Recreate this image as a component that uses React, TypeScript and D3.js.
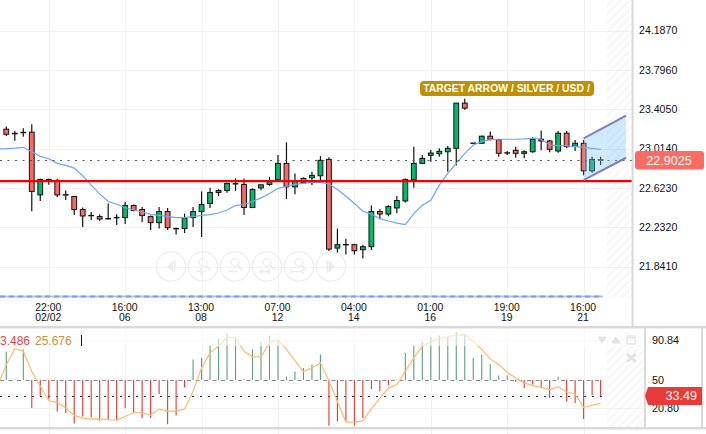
import { useEffect, useRef } from 'react';
import * as d3 from 'd3';

const opens = [23.206,23.165,23.170,23.176,22.553,22.707,22.697,22.555,22.537,22.407,22.349,22.337,22.318,22.329,22.327,22.447,22.407,22.337,22.277,22.387,22.219,22.218,22.327,22.387,22.467,22.577,22.597,22.665,22.657,22.427,22.623,22.657,22.703,22.866,22.633,22.717,22.723,22.743,22.906,22.024,22.060,22.058,22.008,22.038,22.387,22.363,22.423,22.493,22.703,22.866,22.946,22.962,22.982,23.016,23.465,23.069,23.066,23.136,23.102,22.972,22.996,22.966,22.982,23.106,23.089,22.989,23.166,23.036,23.066,22.792,22.902];
const highs = [23.232,23.189,23.216,23.255,22.713,22.713,22.713,22.597,22.543,22.427,22.383,22.357,22.467,22.360,22.483,22.457,22.433,22.347,22.433,22.423,22.228,22.367,22.433,22.587,22.623,22.610,22.677,22.717,22.717,22.617,22.657,22.733,22.949,23.076,22.766,22.727,22.782,22.939,22.926,22.218,22.118,22.068,22.058,22.447,22.410,22.450,22.543,22.717,23.032,22.949,22.999,23.016,23.039,23.465,23.508,23.069,23.142,23.182,23.102,22.989,23.032,22.996,23.126,23.192,23.099,23.189,23.189,23.099,23.099,22.932,22.932];
const lows = [23.139,23.092,23.132,22.390,22.493,22.653,22.533,22.503,22.353,22.234,22.303,22.293,22.307,22.254,22.263,22.390,22.283,22.204,22.218,22.204,22.158,22.174,22.233,22.134,22.423,22.540,22.573,22.593,22.353,22.423,22.600,22.643,22.700,22.510,22.560,22.673,22.650,22.700,21.994,21.971,21.961,21.961,21.921,22.004,22.310,22.340,22.370,22.477,22.623,22.859,22.882,22.932,22.782,22.846,23.398,23.069,23.062,23.096,22.932,22.949,22.922,22.916,22.972,22.996,22.976,22.972,23.016,22.989,22.749,22.772,22.849];
const closes = [23.156,23.160,23.175,22.587,22.707,22.697,22.553,22.551,22.407,22.343,22.345,22.313,22.316,22.327,22.447,22.397,22.347,22.277,22.387,22.227,22.217,22.323,22.387,22.457,22.577,22.597,22.667,22.663,22.427,22.607,22.653,22.683,22.866,22.633,22.693,22.673,22.747,22.896,22.014,22.058,22.058,21.998,22.038,22.387,22.363,22.437,22.497,22.707,22.866,22.916,22.969,22.986,23.016,23.465,23.415,23.069,23.136,23.106,22.966,22.970,22.966,22.982,23.106,23.089,23.006,23.166,23.032,23.066,22.792,22.906,22.900];

// first value sits one bar before the visible candles
const maValues = [23.010,23.012,23.017,23.026,22.982,22.936,22.912,22.866,22.846,22.819,22.743,22.650,22.563,22.487,22.460,22.427,22.403,22.383,22.360,22.350,22.340,22.327,22.327,22.337,22.350,22.357,22.373,22.403,22.447,22.457,22.487,22.523,22.567,22.617,22.640,22.657,22.667,22.677,22.680,22.660,22.607,22.540,22.467,22.390,22.360,22.317,22.293,22.273,22.257,22.367,22.450,22.500,22.650,22.766,22.866,22.966,23.049,23.082,23.102,23.106,23.106,23.106,23.109,23.116,23.106,23.049,23.042,23.039,23.032,23.026,23.016,23.006];

const histValues = [79,50.4,81.4,21,33.5,30.7,17.6,15.9,5.2,12.4,11.4,8,9,8.3,21,15.9,10.7,10.7,35.5,4.5,13.5,42.4,71,72.8,85.8,92.7,98.6,93.4,51,81.4,89.3,95.8,90.7,53.4,58.6,62.4,65.9,76.2,2.8,7.3,6.6,3.1,10.7,40.7,38.3,44.5,50.4,77.9,85.2,89.3,94.5,95.8,94.5,99.3,96.9,72.8,76.2,66.5,54.5,54.5,47.9,41.7,45.2,42.4,31.4,53.4,27.9,26.2,9.7,34.1,33.5];
const signalValues = [44.1,65.9,82.1,79.6,59,43.5,28.6,26.9,21,13.5,10.7,9.7,10,9,8.6,12.4,16.2,16.2,13.8,20,17.9,17.9,20,38.3,62.4,77.9,84.8,94.1,93.4,79.6,73.8,73.8,88.3,91.4,81.4,70,58.6,62.4,67.6,49.3,27.9,6.6,6.6,7.9,20.4,31.4,41.7,45.2,59,72.8,84.8,89.3,92.7,94.5,96.5,96.5,90,81.4,71.7,65.9,57.9,52.1,46.9,44.1,42.4,40,43.1,37.6,35.5,21.7,23.8,26.2];

const priceTicks = ['24.1870','23.7960','23.4050','23.0140','22.6230','22.2320','21.8410'];
const timeTickIndex = [5,14,23,32,41,50,59,68];
const timeTickHours = ['22:00','16:00','13:00','07:00','04:00','01:00','19:00','16:00'];
const timeTickDays = ['02/02','06','08','12','14','16','19','21'];
const indicatorTicks = ['90.84','50','20.80'];

const supportPrice = 22.69;
const lastPrice = 22.9025;
const lastIndicator = 33.49;
const channelIndex = [68, 73];
const channelTop = [23.115, 23.341];
const channelBottom = [22.699, 22.922];

const FONT = '"Liberation Sans", Arial, sans-serif';
const PLOT_RIGHT = 632;
const IND_RIGHT = 644;

export default function App() {
  const svgRef = useRef<SVGSVGElement>(null);

  useEffect(() => {
    if (!svgRef.current) return;
    const svg = d3.select(svgRef.current);
    svg.selectAll('*').remove();

    const x = d3.scaleLinear().domain([0, 70]).range([6.3, 600.6]);
    const y = d3.scaleLinear().domain([21.841, 24.187]).range([266.5, 30.5]);
    const yInd = d3.scaleLinear().domain([20.8, 90.84]).range([408.3, 340.3]);
    const crisp = (v: number) => Math.round(v) + 0.5;

    const defs = svg.append('defs');
    const hatch = defs.append('pattern')
      .attr('id', 'hatch')
      .attr('width', 6)
      .attr('height', 6)
      .attr('patternUnits', 'userSpaceOnUse')
      .attr('patternTransform', 'rotate(45)');
    hatch.append('rect').attr('width', 3).attr('height', 6).attr('fill', '#f8f8f8');
    defs.append('clipPath').attr('id', 'main-clip').append('rect').attr('width', PLOT_RIGHT).attr('height', 296);
    defs.append('clipPath').attr('id', 'ind-clip').append('rect').attr('y', 328).attr('width', IND_RIGHT).attr('height', 100);

    svg.append('rect').attr('width', 706).attr('height', 434).attr('fill', '#fff');

    // Hatched future area
    svg.append('rect').attr('x', 607).attr('y', 0).attr('width', PLOT_RIGHT - 607).attr('height', 298).attr('fill', 'url(#hatch)');
    svg.append('rect').attr('x', 607).attr('y', 328).attr('width', IND_RIGHT - 607).attr('height', 100).attr('fill', 'url(#hatch)');

    // Grid
    const grid = svg.append('g').attr('stroke', '#f1f1f1').attr('stroke-width', 1);
    priceTicks.forEach((t) => {
      const py = crisp(y(+t));
      grid.append('line').attr('x1', 0).attr('x2', PLOT_RIGHT).attr('y1', py).attr('y2', py);
    });
    timeTickIndex.forEach((i) => {
      const px = crisp(x(i));
      grid.append('line').attr('x1', px).attr('x2', px).attr('y1', 0).attr('y2', 296);
      grid.append('line').attr('x1', px).attr('x2', px).attr('y1', 328).attr('y2', 434);
    });
    [90.84, 20.8].forEach((v) => {
      const py = crisp(yInd(v));
      grid.append('line').attr('x1', 0).attr('x2', IND_RIGHT).attr('y1', py).attr('y2', py);
    });

    // Candles
    const main = svg.append('g').attr('clip-path', 'url(#main-clip)');
    opens.forEach((o, i) => {
      const c = closes[i];
      const cx = x(i);
      const top = y(Math.max(o, c));
      const h = Math.max(Math.abs(y(o) - y(c)), 0.4);
      main.append('line')
        .attr('x1', cx).attr('x2', cx)
        .attr('y1', y(highs[i])).attr('y2', y(lows[i]))
        .attr('stroke', '#111').attr('stroke-width', 1.2);
      main.append('rect')
        .attr('x', cx - 2.4).attr('y', top)
        .attr('width', 4.8).attr('height', h)
        .attr('fill', c >= o ? '#00bb6d' : '#fb6a62')
        .attr('stroke', '#111').attr('stroke-width', 1);
    });

    // Moving average
    const maLine = d3.line<number>().x((_, i) => x(i - 1)).y((d) => y(d));
    main.append('path')
      .attr('d', maLine(maValues))
      .attr('fill', 'none')
      .attr('stroke', '#6ba6f7')
      .attr('stroke-width', 1.2);

    // Last price and support lines
    const lastY = crisp(y(lastPrice));
    main.append('line')
      .attr('x1', 0).attr('x2', PLOT_RIGHT).attr('y1', lastY).attr('y2', lastY)
      .attr('stroke', '#555').attr('stroke-width', 1).attr('stroke-dasharray', '2 5.5');
    main.append('line')
      .attr('x1', 0).attr('x2', PLOT_RIGHT).attr('y1', y(supportPrice)).attr('y2', y(supportPrice))
      .attr('stroke', '#f50000').attr('stroke-width', 2.2);

    // Target channel
    const band = channelIndex.map((d, i) => ({ i: d, t: channelTop[i], b: channelBottom[i] }));
    const area = d3.area<{ i: number; t: number; b: number }>()
      .x((d) => x(d.i)).y0((d) => y(d.b)).y1((d) => y(d.t));
    main.append('path').attr('d', area(band)).attr('fill', '#7cc4f8').attr('fill-opacity', 0.35);
    [channelTop, channelBottom].forEach((vals) => {
      main.append('line')
        .attr('x1', x(channelIndex[0])).attr('x2', x(channelIndex[1]))
        .attr('y1', y(vals[0])).attr('y2', y(vals[1]))
        .attr('stroke', '#7d7fc2').attr('stroke-width', 2);
    });

    // Target label
    svg.append('rect')
      .attr('x', 420).attr('y', 81).attr('width', 174).attr('height', 15).attr('rx', 4)
      .attr('fill', '#bf9000');
    svg.append('text')
      .attr('x', 506.5).attr('y', 92.3).attr('text-anchor', 'middle')
      .attr('font-family', FONT).attr('font-size', 10.4).attr('font-weight', 700)
      .attr('fill', '#fff')
      .text('TARGET ARROW / SILVER / USD /');

    // Chart navigation buttons
    const navColor = '#ececec';
    const nav = svg.append('g').attr('fill', 'none').attr('stroke', navColor).attr('stroke-width', 1.2);
    const navX = [171, 203, 235, 267, 299, 331];
    const navCy = 266.5;
    navX.forEach((cx, n) => {
      nav.append('circle').attr('cx', cx).attr('cy', navCy).attr('r', 14.7);
      if (n === 0 || n === 5) {
        const dir = n === 0 ? -1 : 1;
        nav.append('path')
          .attr('d', `M${cx + 4 * dir},${navCy} L${cx - 2 * dir},${navCy - 6} V${navCy + 6} Z`)
          .attr('fill', navColor).attr('stroke', 'none');
        nav.append('line')
          .attr('x1', cx - 3.5 * dir).attr('x2', cx - 3.5 * dir)
          .attr('y1', navCy - 6).attr('y2', navCy + 6).attr('stroke-width', 2);
      } else {
        nav.append('circle').attr('cx', cx).attr('cy', navCy - 4).attr('r', 3.8);
        nav.append('line').attr('x1', cx + 3).attr('y1', navCy - 1).attr('x2', cx + 7).attr('y2', navCy + 3).attr('stroke-width', 2);
        nav.append('line').attr('x1', cx - 7).attr('x2', cx + 3).attr('y1', navCy + 5).attr('y2', navCy + 5).attr('stroke-width', 1.6);
        if (n === 1) {
          nav.append('line').attr('x1', cx - 2).attr('x2', cx - 2).attr('y1', navCy + 1).attr('y2', navCy + 9).attr('stroke-width', 1.6);
        }
        if (n === 3 || n === 4) {
          const w = n === 3 ? 2.5 : -2.5;
          nav.append('path').attr('d', `M${cx - 7 + w},${navCy + 2.5} L${cx - 7},${navCy + 5} L${cx - 7 + w},${navCy + 7.5} M${cx + 3 - w},${navCy + 2.5} L${cx + 3},${navCy + 5} L${cx + 3 - w},${navCy + 7.5}`);
        }
      }
    });

    // Blue bar under the plot
    svg.append('line').attr('x1', 0).attr('x2', 603).attr('y1', 296.5).attr('y2', 296.5)
      .attr('stroke', '#a9c3ee').attr('stroke-width', 2);
    svg.append('line').attr('x1', 0).attr('x2', 603).attr('y1', 296.5).attr('y2', 296.5)
      .attr('stroke', '#7e9fdf').attr('stroke-width', 2).attr('stroke-dasharray', '5 4');

    // Time axis
    timeTickIndex.forEach((i, n) => {
      const t = svg.append('text')
        .attr('text-anchor', 'middle')
        .attr('font-family', FONT).attr('font-size', 10.4).attr('fill', '#111');
      t.append('tspan').attr('x', x(i) - 0.5).attr('y', 311).text(timeTickHours[n]);
      t.append('tspan').attr('x', x(i) - 0.5).attr('y', 321).text(timeTickDays[n]);
    });

    // Price axis
    priceTicks.forEach((t) => {
      svg.append('text')
        .attr('x', 639).attr('y', y(+t) + 3.8)
        .attr('font-family', FONT).attr('font-size', 10.6).attr('fill', '#111')
        .text(t);
    });

    // Indicator pane
    const ind = svg.append('g').attr('clip-path', 'url(#ind-clip)');
    const base = yInd(50);
    ind.append('line').attr('x1', 0).attr('x2', 603).attr('y1', crisp(base)).attr('y2', crisp(base))
      .attr('stroke', '#888').attr('stroke-dasharray', '4 4.5');
    ind.append('line').attr('x1', 0).attr('x2', 603).attr('y1', crisp(yInd(lastIndicator))).attr('y2', crisp(yInd(lastIndicator)))
      .attr('stroke', '#333').attr('stroke-dasharray', '2 6');
    histValues.forEach((v, i) => {
      ind.append('line')
        .attr('x1', x(i)).attr('x2', x(i))
        .attr('y1', base).attr('y2', yInd(v))
        .attr('stroke', v >= 50 ? '#5e9e7e' : '#e83535')
        .attr('stroke-width', 1.1);
    });
    const signalLine = d3.line<number>().x((_, i) => x(i - 1)).y((d) => yInd(d));
    ind.append('path')
      .attr('d', signalLine(signalValues))
      .attr('fill', 'none')
      .attr('stroke', '#fdbb6b')
      .attr('stroke-width', 1.2);
    // top of the pane is washed out
    svg.append('rect').attr('x', 0).attr('y', 328).attr('width', IND_RIGHT).attr('height', 18)
      .attr('fill', '#fff').attr('fill-opacity', 0.6);

    svg.append('text').attr('x', 0).attr('y', 345)
      .attr('font-family', FONT).attr('font-size', 12).attr('fill', '#e8454a')
      .text('3.486');
    svg.append('text').attr('x', 35).attr('y', 345)
      .attr('font-family', FONT).attr('font-size', 12).attr('fill', '#c98f3d')
      .text('25.676');
    svg.append('line').attr('x1', 81.5).attr('x2', 81.5).attr('y1', 335).attr('y2', 346).attr('stroke', '#111');

    // Pane icons
    const iconColor = '#e2e2e2';
    svg.append('path').attr('d', 'M598,337 H606 L602,343 Z').attr('fill', iconColor).attr('stroke', iconColor).attr('stroke-linejoin', 'round');
    svg.append('path').attr('d', 'M612,343 H620 L616,337 Z').attr('fill', iconColor).attr('stroke', iconColor).attr('stroke-linejoin', 'round');
    svg.append('rect').attr('x', 627).attr('y', 336).attr('width', 8).attr('height', 8).attr('fill', 'none').attr('stroke', iconColor).attr('stroke-width', 1.2);
    svg.append('line').attr('x1', 627).attr('x2', 635).attr('y1', 338).attr('y2', 338).attr('stroke', iconColor);
    svg.append('path').attr('d', 'M627,354 L636,362 M636,354 L627,362').attr('stroke', iconColor).attr('stroke-width', 2.6);

    // Pane borders
    const border = svg.append('g').attr('fill', '#d9d9d9');
    border.append('rect').attr('x', 0).attr('y', 326).attr('width', 706).attr('height', 2.4);
    border.append('rect').attr('x', 0).attr('y', 427).attr('width', 706).attr('height', 2.4);
    border.append('rect').attr('x', 631.6).attr('y', 0).attr('width', 2).attr('height', 326);
    border.append('rect').attr('x', 644).attr('y', 327).attr('width', 2).attr('height', 101);
    border.append('rect').attr('x', 701).attr('y', 327).attr('width', 2).attr('height', 101);

    // Indicator axis
    indicatorTicks.forEach((t) => {
      svg.append('text')
        .attr('x', 652).attr('y', yInd(+t) + 3.8)
        .attr('font-family', FONT).attr('font-size', 10.8).attr('fill', '#111')
        .text(t);
    });

    // Value badges
    svg.append('rect')
      .attr('x', 635).attr('y', lastY - 9.5).attr('width', 69).attr('height', 18.5).attr('rx', 3)
      .attr('fill', '#ff6b63');
    svg.append('text')
      .attr('x', 669).attr('y', lastY + 4.4).attr('text-anchor', 'middle')
      .attr('font-family', FONT).attr('font-size', 12.6).attr('fill', '#fff')
      .text(lastPrice.toFixed(4));
    const indY = yInd(lastIndicator);
    svg.append('path')
      .attr('d', `M645,${indY} L648,${indY - 9} H702 V${indY + 9} H648 Z`)
      .attr('fill', '#e93a3a');
    svg.append('text')
      .attr('x', 697).attr('y', indY + 4.5).attr('text-anchor', 'end')
      .attr('font-family', FONT).attr('font-size', 12.6).attr('fill', '#fff')
      .text(lastIndicator.toFixed(2));
  }, []);

  return <svg ref={svgRef} width={706} height={434} style={{ position: 'absolute', left: 0, top: 0, display: 'block' }} />;
}
